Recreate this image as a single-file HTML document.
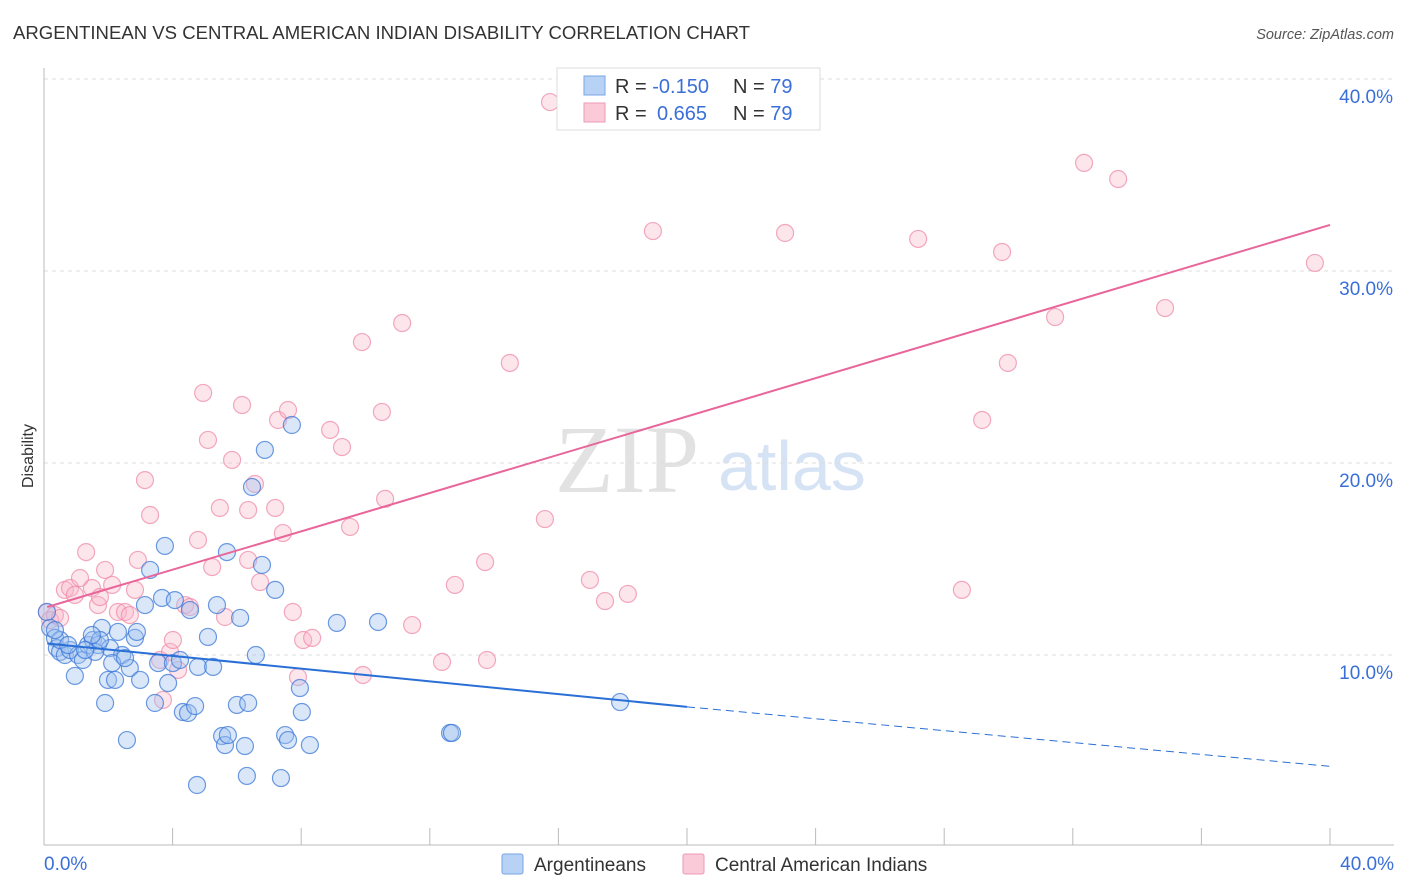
<!DOCTYPE html>
<html><head><meta charset="utf-8"><style>
body{margin:0;background:#fff;font-family:"Liberation Sans",sans-serif;}
svg{display:block}
</style></head><body>
<svg id="chart" width="1406" height="892" xmlns="http://www.w3.org/2000/svg">
<text x="13" y="39" font-size="18" fill="#333" textLength="737" lengthAdjust="spacingAndGlyphs">ARGENTINEAN VS CENTRAL AMERICAN INDIAN DISABILITY CORRELATION CHART</text>
<text x="1394" y="39" font-size="14.5" fill="#555" font-style="italic" text-anchor="end">Source: ZipAtlas.com</text>
<text x="33" y="456" font-size="16" fill="#333" transform="rotate(-90 33 456)" text-anchor="middle">Disability</text>
<text x="555" y="492" font-size="96" fill="#e2e2e2" font-family="Liberation Serif,serif">ZIP</text>
<text x="718" y="490" font-size="70" fill="#d5e3f5">atlas</text>
<g id="grid"></g><g id="marks"></g><g id="lines"></g>
<g>
<rect x="557" y="68" width="263" height="62" fill="#fff" stroke="#ddd"/>
<rect x="584" y="76" width="21" height="19" fill="#b8d2f5" stroke="#7aa6e6"/>
<rect x="584" y="103" width="21" height="19" fill="#fbcad8" stroke="#ee9ab4"/>
<text x="615" y="93" font-size="20" fill="#333">R = <tspan fill="#3a6fd8">-0.150</tspan></text>
<text x="733" y="93" font-size="20" fill="#333">N = <tspan fill="#3a6fd8">79</tspan></text>
<text x="615" y="120" font-size="20" fill="#333">R = <tspan fill="#3a6fd8" x="657">0.665</tspan></text>
<text x="733" y="120" font-size="20" fill="#333">N = <tspan fill="#3a6fd8">79</tspan></text>
</g>
<g>
<rect x="502" y="854" width="21" height="20" rx="2" fill="#b8d2f5" stroke="#7aa6e6"/>
<text x="534" y="871" font-size="19" fill="#333">Argentineans</text>
<rect x="683" y="854" width="21" height="20" rx="2" fill="#fbcad8" stroke="#ee9ab4"/>
<text x="715" y="871" font-size="19" fill="#333">Central American Indians</text>
</g>
</svg>
<script>
const yTicks=[10,20,30,40];
const yTickLabels=["10.0%","20.0%","30.0%","40.0%"];
const xTickLabels=["0.0%","40.0%"];
const bluePx=[[47,612],[50,628],[55,638],[57,648],[60,652],[65,655],[70,650],[75,676],[78,655],[83,660],[88,645],[93,640],[98,645],[102,628],[105,703],[108,680],[110,648],[115,680],[118,632],[122,655],[127,740],[130,668],[135,638],[137,632],[140,680],[145,605],[150,570],[155,703],[158,663],[162,598],[165,546],[168,683],[173,663],[175,600],[180,660],[183,712],[188,713],[190,610],[195,706],[197,785],[198,667],[208,637],[213,667],[217,605],[222,736],[225,745],[227,552],[228,735],[237,705],[240,618],[245,746],[247,776],[248,703],[252,487],[256,655],[262,565],[265,450],[275,590],[281,778],[285,735],[288,740],[292,425],[300,688],[302,712],[310,745],[337,623],[378,622],[450,733],[452,733],[620,702],[60,640],[68,645],[95,652],[100,640],[112,663],[125,658],[92,635],[85,650],[55,630]];
const pinkPx=[[550,102],[47,612],[50,620],[55,615],[60,618],[65,590],[70,588],[75,595],[80,578],[86,552],[92,588],[98,605],[100,597],[105,570],[112,585],[118,612],[125,612],[130,615],[135,590],[138,560],[145,480],[150,515],[160,660],[163,700],[170,652],[173,640],[178,670],[185,605],[190,607],[198,540],[203,393],[208,440],[212,567],[220,508],[225,617],[232,460],[242,405],[248,510],[248,560],[255,484],[260,582],[275,508],[278,420],[283,533],[288,410],[293,612],[298,677],[303,640],[312,638],[330,430],[342,447],[350,527],[362,342],[363,675],[382,412],[385,499],[402,323],[412,625],[442,662],[455,585],[485,562],[487,660],[510,363],[545,519],[590,580],[605,601],[628,594],[653,231],[785,233],[918,239],[962,590],[982,420],[1002,252],[1008,363],[1055,317],[1084,163],[1118,179],[1165,308],[1315,263]];
const blueX=bluePx.map(p=>+((p[0]-44)/1286*40).toFixed(2));
const blueY=bluePx.map(p=>+((847-p[1])/19.2).toFixed(2));
const pinkX=pinkPx.map(p=>+((p[0]-44)/1286*40).toFixed(2));
const pinkY=pinkPx.map(p=>+((847-p[1])/19.2).toFixed(2));
const blueTrend=[[0.1,10.6],[20,7.3],[40,4.2]];
const pinkTrend=[[0.1,12.5],[40,32.4]];
const X=v=>44+v/40*1286, Y=v=>847-v*19.2;
const NS="http://www.w3.org/2000/svg";
function mk(tag,attrs,parent){const e=document.createElementNS(NS,tag);for(const k in attrs)e.setAttribute(k,attrs[k]);parent.appendChild(e);return e;}
const grid=document.getElementById('grid');
yTicks.forEach((t,i)=>{
 const l=mk('line',{x1:44,x2:1394,y1:Y(t),y2:Y(t),stroke:'#ddd','stroke-dasharray':'4,4'},grid);
 
 
 const tx=mk('text',{x:1393,y:Y(t)+24,'font-size':19,fill:'#3a6fd8','text-anchor':'end'},grid);
 tx.textContent=yTickLabels[i];
 
 
});
const ax=mk('line',{x1:44,x2:1394,y1:845,y2:845,stroke:'#bbb'},grid);


const ay=mk('line',{x1:44,x2:44,y1:68,y2:845,stroke:'#bbb'},grid);


for(let i=1;i<=10;i++){
 const t=mk('line',{x1:X(i*4),x2:X(i*4),y1:828,y2:845,stroke:'#bbb'},grid);
 
 
}
[[0,'start',44],[40,'end',1394]].forEach((d,i)=>{
 const t=mk('text',{x:d[2],y:870,'font-size':19,fill:'#3a6fd8','text-anchor':d[1]},grid);
 t.textContent=xTickLabels[i];
 
 
});
const marks=document.getElementById('marks');
pinkX.forEach((x,i)=>{
 const c=mk('circle',{cx:X(x),cy:Y(pinkY[i]),r:8.5,fill:'rgba(248,180,200,0.35)',stroke:'rgba(238,140,170,0.75)','stroke-width':1.2},marks);
 
 
});
blueX.forEach((x,i)=>{
 const c=mk('circle',{cx:X(x),cy:Y(blueY[i]),r:8.5,fill:'rgba(160,195,240,0.4)',stroke:'rgba(60,120,215,0.75)','stroke-width':1.2},marks);
 
 
});
const lines=document.getElementById('lines');
const b1=mk('line',{x1:X(blueTrend[0][0]),y1:Y(blueTrend[0][1]),x2:X(blueTrend[1][0]),y2:Y(blueTrend[1][1]),stroke:'#2a6fd6','stroke-width':2},lines);


const b2=mk('line',{x1:X(blueTrend[1][0]),y1:Y(blueTrend[1][1]),x2:X(blueTrend[2][0]),y2:Y(blueTrend[2][1]),stroke:'#2a6fd6','stroke-width':1,'stroke-dasharray':'8,5'},lines);


const p1=mk('line',{x1:X(pinkTrend[0][0]),y1:Y(pinkTrend[0][1]),x2:X(pinkTrend[1][0]),y2:Y(pinkTrend[1][1]),stroke:'#e8669a','stroke-width':2},lines);


</script>
</body></html>
